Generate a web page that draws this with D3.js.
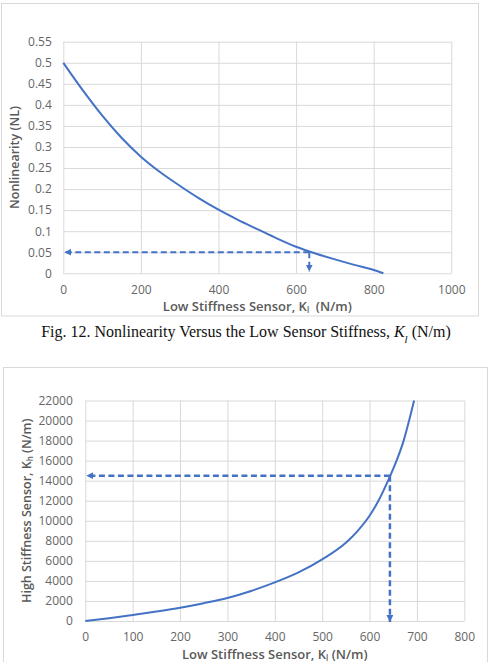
<!DOCTYPE html>
<html>
<head>
<meta charset="utf-8">
<script src="https://cdn.jsdelivr.net/npm/d3@7"></script>
<style>
	html, body { margin: 0; padding: 0; background: #fff; }
	svg { display: block; }
</style>
</head>
<body>
<svg id="fig" width="496" height="662"></svg>
<script>
(function () {

// Fig. 12 data: nonlinearity against the low stiffness sensor
var nlStiffness = [0, 50, 100, 150, 200, 250, 300, 350, 400, 450, 500, 550, 600, 650, 700, 750, 800, 825];
var nlValues = [0.5, 0.435, 0.375, 0.322, 0.277, 0.24, 0.208, 0.178, 0.151, 0.127, 0.105, 0.083, 0.063, 0.047, 0.033, 0.02, 0.008, 0];
var nlXTicks = [0, 200, 400, 600, 800, 1000];
var nlYTicks = [0, 0.05, 0.1, 0.15, 0.2, 0.25, 0.3, 0.35, 0.4, 0.45, 0.5, 0.55];
var nlPick = [634, 0.05];

// second chart: high stiffness sensor against the low one
var khStiffness = [0, 50, 100, 150, 200, 250, 300, 350, 400, 450, 500, 550, 575, 600, 620, 640, 657, 672, 683.5, 694];
var khValues = [0, 280, 600, 950, 1330, 1780, 2300, 3000, 3850, 4850, 6150, 7800, 9000, 10500, 12100, 14100, 16000, 18000, 20000, 22000];
var khXTicks = [0, 100, 200, 300, 400, 500, 600, 700, 800];
var khYTicks = [0, 2000, 4000, 6000, 8000, 10000, 12000, 14000, 16000, 18000, 20000, 22000];
var khPick = [643, 14500];

var blue = '#4472C4';
var grid = '#d9d9d9';
var labelColor = '#595959';
var font = '"Open Sans", sans-serif';

var svg = d3.select('#fig');

var defs = svg.append('defs');
defs.append('marker')
	.attr('id', 'head')
	.attr('markerUnits', 'userSpaceOnUse')
	.attr('viewBox', '0 0 10 10')
	.attr('refX', 10)
	.attr('refY', 5)
	.attr('markerWidth', 7)
	.attr('markerHeight', 7)
	.attr('orient', 'auto')
	.append('path')
		.attr('d', 'M0,0L10,5L0,10Z')
		.attr('fill', blue);

// Draws one excel-like panel: frame, grid, tick labels, titles, curve and the dashed pick lines.
var drawPanel = function (cfg) {
	svg.append('rect')
		.attr('x', cfg.frame[0]).attr('y', cfg.frame[1])
		.attr('width', cfg.frame[2]).attr('height', cfg.frame[3])
		.attr('fill', '#fff')
		.attr('stroke', grid);

	var x = d3.scaleLinear().domain(d3.extent(cfg.xTicks)).range([cfg.left, cfg.right]);
	var y = d3.scaleLinear().domain(d3.extent(cfg.yTicks)).range([cfg.bottom, cfg.top]);
	var w = cfg.right - cfg.left, h = cfg.bottom - cfg.top;

	var gx = svg.append('g')
		.attr('transform', 'translate(0,' + cfg.bottom + ')')
		.call(d3.axisBottom(x).tickValues(cfg.xTicks).tickSize(-h).tickPadding(cfg.xPad).tickFormat(String));
	var gy = svg.append('g')
		.attr('transform', 'translate(' + cfg.left + ',0)')
		.call(d3.axisLeft(y).tickValues(cfg.yTicks).tickSize(-w).tickPadding(cfg.yPad).tickFormat(String));

	[gx, gy].forEach(function (g) {
		g.select('.domain').remove();
		g.selectAll('line').attr('stroke', grid).attr('stroke-width', 1);
		g.selectAll('text')
			.attr('fill', '#666')
			.style('font-family', font)
			.style('font-size', cfg.tickSize + 'px');
	});

	// x title with subscript l
	var xt = svg.append('text')
		.attr('x', (cfg.left + cfg.right) / 2)
		.attr('y', cfg.xTitleY)
		.attr('text-anchor', 'middle')
		.attr('fill', labelColor)
		.style('white-space', 'pre')
		.style('font-family', font)
		.style('font-weight', 600)
		.style('font-size', cfg.xTitleSize + 'px');
	xt.append('tspan').text('Low Stiffness Sensor, K');
	xt.append('tspan').text('l').attr('baseline-shift', '-1.5').style('font-size', '8px');
	xt.append('tspan').text(cfg.xTitleTail);

	var yt = svg.append('text')
		.attr('transform', 'translate(' + cfg.yTitleX + ',' + (cfg.top + cfg.bottom) / 2 + ') rotate(-90)')
		.attr('text-anchor', 'middle')
		.attr('fill', labelColor)
		.style('font-family', font)
		.style('font-weight', 600)
		.style('font-size', cfg.yTitleSize + 'px');
	cfg.yTitle.forEach(function (part) {
		var t = yt.append('tspan').text(part.text);
		if (part.sub) t.attr('baseline-shift', '-1.5').style('font-size', '8px');
	});

	var line = d3.line()
		.x(function (d) { return x(d[0]); })
		.y(function (d) { return y(d[1]); })
		.curve(d3.curveMonotoneX);

	svg.append('path')
		.datum(d3.zip(cfg.xs, cfg.ys))
		.attr('d', line)
		.attr('fill', 'none')
		.attr('stroke', blue)
		.attr('stroke-width', 2);

	// dashed guides from the picked point to both axes
	var px = x(cfg.pick[0]), py = y(cfg.pick[1]);
	var guides = [
		[[px, py], [cfg.left + 1, py]],
		[[px, py], [px, y(cfg.yDrop)]]
	];
	svg.selectAll(null)
		.data(guides)
		.enter().append('path')
			.attr('d', function (d) { return 'M' + d[0] + 'L' + d[1]; })
			.attr('fill', 'none')
			.attr('stroke', blue)
			.attr('stroke-width', cfg.dashWidth)
			.attr('stroke-dasharray', '6,3.5')
			.attr('marker-end', 'url(#head)');
};

drawPanel({
	frame: [1.5, 3.5, 477, 312.5],
	left: 63.3, right: 451.3, top: 41.7, bottom: 273.3,
	xTicks: nlXTicks, yTicks: nlYTicks,
	xs: nlStiffness, ys: nlValues,
	pick: nlPick, yDrop: 0.004,
	xPad: 12, yPad: 11.5,
	tickSize: 12,
	xTitleSize: 13, yTitleSize: 12.5,
	xTitleY: 311,
	xTitleTail: '  (N/m)',
	yTitleX: 19,
	yTitle: [{ text: 'Nonlinearity (NL)' }],
	dashWidth: 2
});

drawPanel({
	frame: [3.5, 367.5, 484, 310],
	left: 85.3, right: 464.3, top: 400.5, bottom: 621,
	xTicks: khXTicks, yTicks: khYTicks,
	xs: khStiffness, ys: khValues,
	pick: khPick, yDrop: -100,
	xPad: 11, yPad: 12.5,
	tickSize: 12,
	xTitleSize: 13, yTitleSize: 12.5,
	xTitleY: 659,
	xTitleTail: ' (N/m)',
	yTitleX: 31,
	yTitle: [{ text: 'High Stiffness Sensor, K' }, { text: 'h', sub: true }, { text: ' (N/m)' }],
	dashWidth: 2.5
});

// caption for Fig. 12
var cap = svg.append('text')
	.attr('x', 246)
	.attr('y', 337)
	.attr('text-anchor', 'middle')
	.attr('fill', '#111')
	.style('font-family', '"Liberation Serif", "Times New Roman", serif')
	.style('font-size', '16px');
cap.append('tspan').text('Fig. 12. Nonlinearity Versus the Low Sensor Stiffness, ');
cap.append('tspan').text('K').style('font-style', 'italic');
cap.append('tspan').text('l').style('font-style', 'italic').attr('baseline-shift', 'sub').style('font-size', '11px');
cap.append('tspan').text(' (N/m)');

})();
</script>
</body>
</html>
